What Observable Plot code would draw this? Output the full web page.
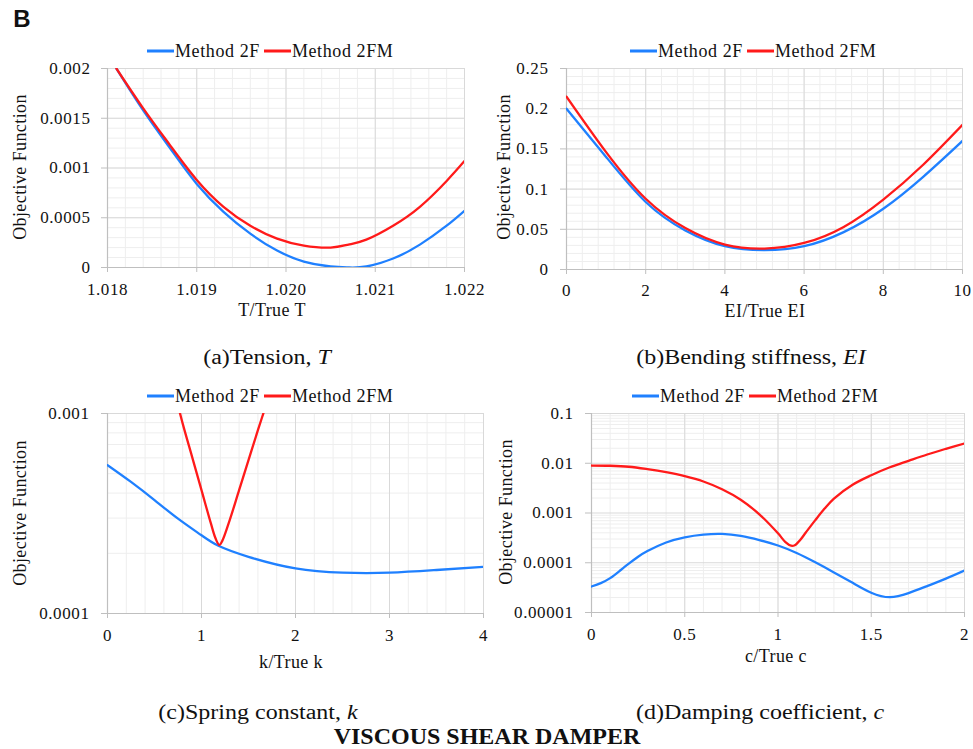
<!DOCTYPE html>
<html><head><meta charset="utf-8">
<script src="https://cdn.jsdelivr.net/npm/d3@7"></script>
<script src="https://cdn.jsdelivr.net/npm/@observablehq/plot@0.6"></script>
<style>
body{margin:0;background:#fff;}
#root{position:relative;width:973px;height:749px;background:#fff;font-family:"Liberation Serif","Times New Roman",serif;color:#111;overflow:hidden}
.t{position:absolute;white-space:nowrap;transform:translate(-50%,-50%);line-height:1}
.p{position:absolute}
.p svg, .p svg text{font-family:"Liberation Serif","Times New Roman",serif !important;letter-spacing:0.6px}
.leg{position:absolute;display:flex;align-items:center;transform:translateY(-50%);font-size:18px;letter-spacing:0.6px;white-space:nowrap}
.leg span.l{display:inline-block;width:27px;height:2.5px;margin-right:1px}
</style></head><body><div id="root"></div>
<script>
const BLUE = "#1f80ff", RED = "#ff1a1a";

// (a) Tension
const aX    = [1.0181,1.0184,1.0187,1.0190,1.0193,1.0196,1.0199,1.0202,1.0205,1.0207,1.0209,1.0212,1.0215,1.0218,1.0220];
const a2F   = [0.00200,0.00158,0.00120,0.00084,0.00056,0.00034,0.00017,0.00006,0.00001,0.00000,0.00001,0.00009,0.00023,0.00042,0.00057];
const a2FM  = [0.00200,0.00160,0.00123,0.00088,0.00061,0.00042,0.00029,0.00022,0.00020,0.00023,0.00028,0.00042,0.00061,0.00087,0.00107];
const aXTicks = [1.018,1.019,1.020,1.021,1.022];
const aYTicks = [0,0.0005,0.001,0.0015,0.002];

// (b) Bending stiffness
const bX    = [0,1,2,3,4,5,6,7,8,9,10];
const b2F   = [0.200,0.140,0.084,0.0486,0.0290,0.0240,0.0290,0.0465,0.0756,0.115,0.160];
const b2FM  = [0.215,0.146,0.088,0.0515,0.0310,0.0260,0.0330,0.0530,0.087,0.130,0.180];
const bXTicks = [0,2,4,6,8,10];
const bYTicks = [0,0.05,0.1,0.15,0.2,0.25];

// (c) Spring constant
const cX    = [0,0.25,0.5,0.75,1,1.18,1.5,2,2.5,3,3.5,4];
const c2F   = [5.52e-4,4.55e-4,3.69e-4,2.98e-4,2.46e-4,2.18e-4,1.92e-4,1.68e-4,1.60e-4,1.60e-4,1.65e-4,1.71e-4];
const cXFM  = [0.72,0.8,0.9,1.0,1.1,1.15,1.19,1.22,1.3,1.4,1.5,1.6,1.7];
const c2FM  = [1.25e-3,8.9e-4,6.07e-4,4.14e-4,2.82e-4,2.37e-4,2.2e-4,2.3e-4,2.93e-4,4.14e-4,5.85e-4,8.25e-4,1.15e-3];
const cXTicks = [0,1,2,3,4];
const cYTicks = [1e-4,1e-3];

// (d) Damping coefficient
const dX    = [0,0.05,0.1,0.15,0.2,0.25,0.3,0.4,0.5,0.6,0.7,0.8,0.9,1.0,1.1,1.2,1.3,1.4,1.5,1.6,1.7,1.8,1.9,2.0];
const d2F   = [3.33e-5,3.9e-5,4.9e-5,6.8e-5,9.6e-5,1.32e-4,1.72e-4,2.55e-4,3.25e-4,3.68e-4,3.8e-4,3.47e-4,2.86e-4,2.22e-4,1.57e-4,1.02e-4,6.4e-5,3.95e-5,2.5e-5,2.03e-5,2.45e-5,3.4e-5,4.8e-5,7.0e-5];
const dXFM  = [0,0.1,0.2,0.3,0.4,0.5,0.6,0.7,0.8,0.9,1.0,1.04,1.07,1.09,1.12,1.15,1.2,1.25,1.3,1.4,1.5,1.6,1.7,1.8,1.9,2.0];
const d2FM  = [9.0e-3,8.9e-3,8.5e-3,7.6e-3,6.6e-3,5.5e-3,4.3e-3,3.0e-3,1.85e-3,9.4e-4,3.9e-4,2.6e-4,2.2e-4,2.25e-4,2.9e-4,4.1e-4,7.2e-4,1.23e-3,1.95e-3,3.7e-3,5.75e-3,8.3e-3,1.12e-2,1.5e-2,1.95e-2,2.5e-2];
const dXTicks = [0,0.5,1,1.5,2];
const dYTicks = [1e-5,1e-4,1e-3,1e-2,1e-1];

const root = document.getElementById("root");
const FONT = "Liberation Serif";

function logMinor(lo, hi){ const out=[]; for(let e=Math.round(Math.log10(lo)); e<Math.round(Math.log10(hi)); e++) for(let m=2;m<=9;m++) out.push(m*Math.pow(10,e)); return out; }
function linMinor(lo, hi, step){ const n=Math.round((hi-lo)/step); return d3.range(n+1).map(i=>lo+i*step); }

function panel(o){
  const pts = (xs, ys) => xs.map((x,i)=>({x, y: ys[i]}));
  const marks = [
    Plot.ruleX(o.xMinor, {stroke:"#eeeeee", strokeWidth:1}),
    Plot.ruleY(o.yMinor, {stroke:"#eeeeee", strokeWidth:1}),
    Plot.ruleX(o.xTicks, {stroke:"#d9d9d9", strokeWidth:1}),
    Plot.ruleY(o.yTicks, {stroke:"#d9d9d9", strokeWidth:1}),
    Plot.ruleY([o.yDomain[0]], {stroke:"#bfbfbf", strokeWidth:1.2}),
    Plot.ruleX([o.xDomain[0]], {stroke:"#bfbfbf", strokeWidth:1.2}),
    Plot.axisX({ticks:o.xTicks, tickFormat:o.xFmt, tickSize:5, tickPadding:o.xPad, stroke:"#bfbfbf", fill:"#111", fontSize:17, fontFamily:FONT, label:null}),
    Plot.axisY({ticks:o.yTicks, tickFormat:o.yFmt, tickSize:6, tickPadding:o.yPad, stroke:"#bfbfbf", fill:"#111", fontSize:17, fontFamily:FONT, label:null}),
    Plot.line(pts(o.s1x, o.s1y), {x:"x", y:"y", stroke:BLUE, strokeWidth:2.3, curve:o.c1, clip:true}),
    Plot.line(pts(o.s2x, o.s2y), {x:"x", y:"y", stroke:RED, strokeWidth:2.3, curve:o.c2, clip:true})
  ];
  const chart = Plot.plot({
    width:o.w, height:o.h, marginLeft:o.ml, marginRight:o.mr, marginTop:o.mt, marginBottom:o.mb,
    style:{fontFamily:"'Liberation Serif', 'Times New Roman', serif", fontSize:"17px", background:"transparent", color:"#111", overflow:"visible"},
    x:{domain:o.xDomain, label:null},
    y:{domain:o.yDomain, type:o.yType || "linear", label:null},
    marks
  });
  const wrap = document.createElement("div");
  wrap.className="p"; wrap.style.left=o.left+"px"; wrap.style.top=o.top+"px";
  wrap.appendChild(chart); root.appendChild(wrap);
}

function text(str, x, y, css, sx){
  const d=document.createElement("div"); d.className="t"; d.innerHTML=str;
  d.style.left=x+"px"; d.style.top=y+"px"; Object.assign(d.style, css||{});
  if (sx) d.style.transform = (d.style.transform || "translate(-50%,-50%)") + ` scaleX(${sx})`;
  root.appendChild(d);
}
function legend(x, y){
  const d=document.createElement("div"); d.className="leg"; d.style.left=x+"px"; d.style.top=y+"px";
  d.innerHTML=`<span class="l" style="background:${BLUE}"></span><span>Method 2F</span><span class="l" style="background:${RED};margin-left:4px"></span><span>Method 2FM</span>`;
  root.appendChild(d);
}
const str = d => String(d);

panel({left:0, top:40, w:490, h:280, ml:107, mr:26, mt:28, mb:53,
  xDomain:[1.018,1.022], yDomain:[0,0.002], xTicks:aXTicks, yTicks:aYTicks,
  xMinor:linMinor(1.018,1.022,0.0002), yMinor:linMinor(0,0.002,0.0001),
  xFmt:d3.format(".3f"), yFmt:str, xPad:10, yPad:11, s1x:aX, s1y:a2F, s2x:aX, s2y:a2FM, c1:"natural", c2:"natural"});
panel({left:490, top:40, w:483, h:280, ml:76, mr:11, mt:28, mb:51,
  xDomain:[0,10], yDomain:[0,0.25], xTicks:bXTicks, yTicks:bYTicks,
  xMinor:linMinor(0,10,0.4), yMinor:linMinor(0,0.25,0.01),
  xFmt:str, yFmt:str, xPad:9, yPad:12, s1x:bX, s1y:b2F, s2x:bX, s2y:b2FM, c1:"natural", c2:"natural"});
panel({left:0, top:390, w:490, h:270, ml:107, mr:7, mt:23, mb:47,
  xDomain:[0,4], yDomain:[1e-4,1e-3], yType:"log", xTicks:cXTicks, yTicks:cYTicks,
  xMinor:linMinor(0,4,0.2), yMinor:logMinor(1e-4,1e-3),
  xFmt:str, yFmt:str, xPad:10, yPad:12, s1x:cX, s1y:c2F, s2x:cXFM, s2y:c2FM, c1:"natural", c2:"catmull-rom"});
panel({left:490, top:390, w:483, h:270, ml:101, mr:9, mt:23, mb:48,
  xDomain:[0,2], yDomain:[1e-5,1e-1], yType:"log", xTicks:dXTicks, yTicks:dYTicks,
  xMinor:linMinor(0,2,0.1), yMinor:logMinor(1e-5,1e-1),
  xFmt:str, yFmt:str, xPad:10, yPad:12, s1x:dX, s1y:d2F, s2x:dXFM, s2y:d2FM, c1:"natural", c2:"catmull-rom"});

legend(147,51); legend(630,51); legend(147,396); legend(632,396);

const yt = {fontSize:"18px", letterSpacing:"0.4px"};
const rot = {transform:"translate(-50%,-50%) rotate(-90deg)"};
text("Objective Function", 20, 167, Object.assign({}, yt, rot));
text("Objective Function", 504, 167, Object.assign({}, yt, rot));
text("Objective Function", 20, 513, Object.assign({}, yt, rot));
text("Objective Function", 506, 512, Object.assign({}, yt, rot));

text("T/True T", 272, 310, yt);
text("EI/True EI", 765, 311, yt);
text("k/True k", 291, 662, yt);
text("c/True c", 776, 656, yt);

const st = {fontSize:"20px"};
text("(a)Tension, <i>T</i>", 267, 357, st, 1.2);
text("(b)Bending stiffness, <i>EI</i>", 751, 357, st, 1.2);
text("(c)Spring constant, <i>k</i>", 258, 712, st, 1.2);
text("(d)Damping coefficient, <i>c</i>", 760, 712, st, 1.2);
text("VISCOUS SHEAR DAMPER", 487, 736, {fontSize:"24px", fontWeight:"bold"});
text("B", 22, 19, {fontFamily:"'Liberation Sans', Arial, sans-serif", fontWeight:"bold", fontSize:"24px"});
</script></body></html>
